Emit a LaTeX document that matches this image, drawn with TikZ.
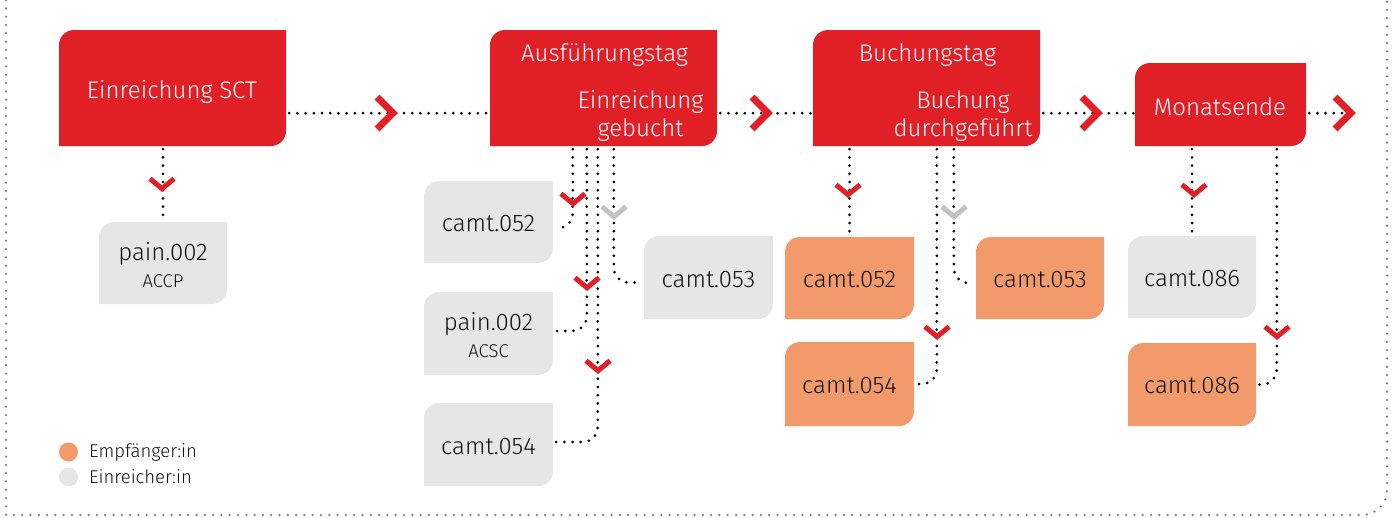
\documentclass[tikz,border=0pt]{standalone}
\usepackage{fontspec}
\setmainfont{Fira Sans Light}
\usetikzlibrary{calc}
\definecolor{boxred}{HTML}{E01F27}
\definecolor{boxorange}{HTML}{F39A6B}
\definecolor{boxgray}{HTML}{E6E6E6}
\definecolor{chevgray}{HTML}{C2C2C2}
\definecolor{framegray}{HTML}{7A7A7A}
\definecolor{textdark}{HTML}{111111}
% box with rounded top-left and bottom-right corners (radius 15)
\newcommand\mybox[6]{%
  \fill[#6] (#2,#5) -- (#2,{#3+15}) .. controls (#2,{#3+6.7}) and ({#2+6.7},#3) .. ({#2+15},#3) -- (#4,#3)
     -- (#4,{#5-15}) .. controls (#4,{#5-6.7}) and ({#4-6.7},#5) .. ({#4-15},#5) -- cycle;
  \node[inner sep=0pt, minimum width={(#4-#2)*1pt}, minimum height={(#5-#3)*1pt}] (#1)
     at ({(#2+#4)/2},{(#3+#5)/2}) {};}
\newcommand\chevH[1]{\draw[chevred] ({#1-16},97) -- (#1,113) -- ({#1-16},129);}
\newcommand\chevD[3]{\draw[chevdown, draw=#3] ({#1-12},{#2-10}) -- (#1,#2) -- ({#1+12},{#2-10});}
\tikzset{
  dots/.style={line width=3pt, line cap=round, dash pattern=on 0pt off 8.2pt, draw=black},
  framedots/.style={line width=2.5pt, line cap=round, dash pattern=on 0pt off 8.3pt, draw=framegray},
  chevred/.style={line width=7pt, draw=boxred, line join=miter, miter limit=10, line cap=butt},
  chevdown/.style={line width=5pt, line join=miter, miter limit=10, line cap=butt},
  hd/.style={font=\fontsize{24}{28}\selectfont, text=white, inner sep=0pt, anchor=base},
  msg/.style={font=\fontsize{24}{28}\selectfont, text=textdark, inner sep=0pt, anchor=base},
  small/.style={font=\fontsize{18.5}{22}\selectfont, text=textdark, inner sep=0pt, anchor=base},
  legend/.style={font=\fontsize{18.5}{22}\selectfont, text=textdark, inner sep=0pt, anchor=base west},
}
\begin{document}
\begin{tikzpicture}[x=1pt, y=-1pt]
\useasboundingbox (0,0) rectangle (1396,517);
% frame
\draw[framedots] (6,0) -- (6,515) -- (1362,515) .. controls (1376,515) and (1387,504) .. (1387,490) -- (1387,0);
% main boxes
\mybox{A}{59}{30}{286}{146}{boxred}
\mybox{B}{490}{30}{717}{146}{boxred}
\mybox{C}{813}{30}{1040}{146}{boxred}
\mybox{D}{1135}{63}{1306}{146}{boxred}
\node[hd] (tA) at (172,98) {Einreichung SCT};
\node[hd] (tB) at (604.5,61) {Ausführungstag};
\node[hd] (tB2) at (640.5,108) {Einreichung};
\node[hd] (tB3) at (640.5,136) {gebucht};
\node[hd] (tC) at (927.5,61) {Buchungstag};
\node[hd] (tC2) at (963,108) {Buchung};
\node[hd] (tC3) at (963,136) {durchgeführt};
\node[hd] (tD) at (1220,115) {Monatsende};
% message boxes
\mybox{P1}{99}{222}{227}{304}{boxgray}
\mybox{B1}{424}{181}{553}{263}{boxgray}
\mybox{B2}{424}{292}{553}{375}{boxgray}
\mybox{B3}{424}{403}{553}{486}{boxgray}
\mybox{B4}{644}{236}{773}{319}{boxgray}
\mybox{C1}{785}{237}{914}{319}{boxorange}
\mybox{C2}{785}{342}{914}{426}{boxorange}
\mybox{C3}{976}{237}{1104}{319}{boxorange}
\mybox{D1}{1128}{236}{1256}{318}{boxgray}
\mybox{D2}{1128}{343}{1256}{426}{boxorange}
\node[msg] (tP1) at (163,260) {pain.002};
\node[small] (tP1b) at (163,287) {ACCP};
\node[msg] (tB1) at (488.5,231.5) {camt.052};
\node[msg] (tB2m) at (488.5,330) {pain.002};
\node[small] (tB2b) at (488.5,357) {ACSC};
\node[msg] (tB3m) at (488.5,454) {camt.054};
\node[msg] (tB4) at (708.5,287) {camt.053};
\node[msg] (tC1) at (849.5,287) {camt.052};
\node[msg] (tC2m) at (849.5,393) {camt.054};
\node[msg] (tC3m) at (1040,287) {camt.053};
\node[msg] (tD1) at (1192,286) {camt.086};
\node[msg] (tD2) at (1192,393) {camt.086};
% flow connectors
\coordinate (fend) at (1350,113);
\draw[dots] ($(A.south east)+(3,-33)$) -- ($(B.south west)+(0,-33)$);
\draw[dots] ($(B.south east)+(3,-33)$) -- ($(C.south west)+(0,-33)$);
\draw[dots] ($(C.south east)+(3,-33)$) -- ($(D.south west)+(0,-33)$);
\draw[dots] ($(D.south east)+(3,-33)$) -- (fend);
% message connectors
\draw[dots] ([yshift=-3pt]A.south -| P1.north) -- (P1.north);
\draw[dots, rounded corners=15pt] ([xshift=83pt,yshift=-3pt]B.south west) |- ([xshift=2pt,yshift=-6pt]B1.east);
\draw[dots, rounded corners=15pt] ([xshift=97pt,yshift=-3pt]B.south west) |- ([xshift=2pt,yshift=2.5pt]B2.east);
\draw[dots, rounded corners=15pt] ([xshift=108pt,yshift=-3pt]B.south west) |- ([xshift=2pt,yshift=2.5pt]B3.east);
\draw[dots, rounded corners=15pt] ([xshift=124pt,yshift=-3pt]B.south west) |- ([xshift=-2pt,yshift=-5pt]B4.west);
\draw[dots] ([yshift=-3pt]C.south -| C1.north) -- (C1.north);
\draw[dots, rounded corners=15pt] ([xshift=141pt,yshift=-3pt]C.south west) |- ([xshift=-2pt,yshift=-5pt]C3.west);
\draw[dots, rounded corners=15pt] ([xshift=124pt,yshift=-3pt]C.south west) |- ([xshift=2pt]C2.east);
\draw[dots] ([yshift=-3pt]D.south -| D1.north) -- (D1.north);
\draw[dots, rounded corners=15pt] ([xshift=142pt,yshift=-3pt]D.south west) |- ([xshift=2pt]D2.east);
% chevrons
\chevH{393}
\chevH{768}
\chevH{1098}
\chevH{1351}
\chevD{162}{188.7}{boxred}
\chevD{573}{203.7}{boxred}
\chevD{587}{287.7}{boxred}
\chevD{598}{370.7}{boxred}
\chevD{614}{216.7}{chevgray}
\chevD{848}{194.7}{boxred}
\chevD{954}{216.7}{chevgray}
\chevD{937}{336.7}{boxred}
\chevD{1194}{194.7}{boxred}
\chevD{1277}{336.7}{boxred}
% legend
\fill[boxorange] (68.5,452) circle[radius=9.5];
\fill[boxgray] (68.5,477) circle[radius=9.5];
\node[legend] (l1) at (89,457) {Empfänger:in};
\node[legend] (l2) at (89,483) {Einreicher:in};
\end{tikzpicture}
\end{document}
